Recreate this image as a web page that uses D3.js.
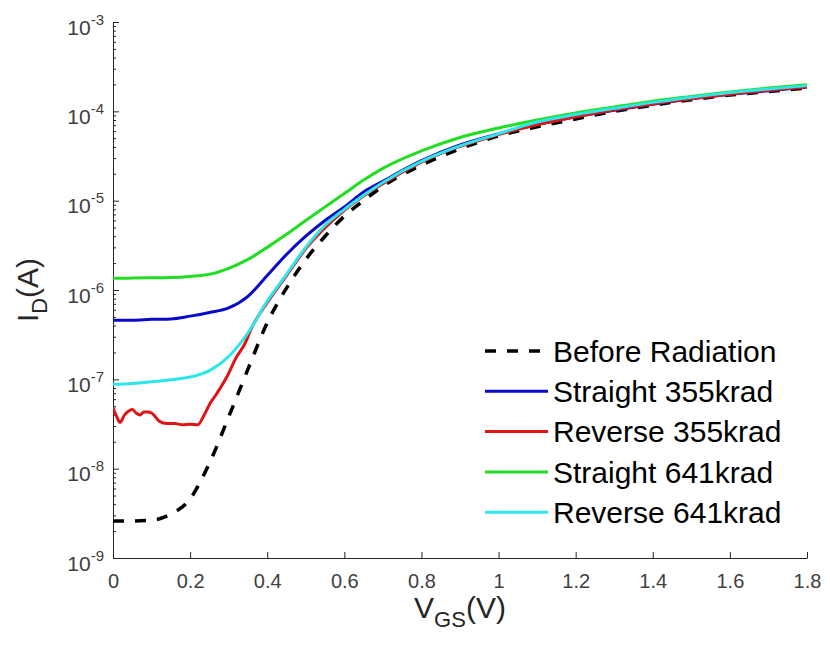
<!DOCTYPE html>
<html>
<head>
<meta charset="utf-8">
<script src="https://cdn.jsdelivr.net/npm/d3@7"></script>
<style>
  body { margin: 0; background: #fff; }
  svg { font-family: "Liberation Sans", Arial, sans-serif; }
</style>
</head>
<body>
<svg id="chart" width="830" height="647"></svg>
<script>
// gate voltage grid shared by the smooth curves
var vgs = [0, 0.05, 0.1, 0.15, 0.2, 0.25, 0.3, 0.35, 0.4, 0.45, 0.5, 0.55, 0.6, 0.65, 0.7,
  0.8, 0.9, 1.0, 1.1, 1.2, 1.3, 1.4, 1.5, 1.6, 1.7, 1.8];

var before = [2.6e-9, 2.6e-9, 2.65e-9, 3.1e-9, 4.6e-9, 1.15e-8, 3.8e-8, 1.3e-7, 4.3e-7, 1.05e-6,
  2.2e-6, 4.0e-6, 6.7e-6, 1.0e-5, 1.45e-5, 2.5e-5, 3.8e-5, 5.3e-5, 6.7e-5, 8.2e-5, 1.0e-4,
  1.17e-4, 1.35e-4, 1.52e-4, 1.67e-4, 1.82e-4];

var straight355 = [4.6e-7, 4.6e-7, 4.7e-7, 4.75e-7, 5.1e-7, 5.6e-7, 6.3e-7, 8.5e-7, 1.45e-6,
  2.5e-6, 4.0e-6, 6.0e-6, 8.5e-6, 1.25e-5, 1.65e-5, 2.8e-5, 4.2e-5, 5.6e-5, 7.1e-5, 8.7e-5,
  1.03e-4, 1.2e-4, 1.38e-4, 1.55e-4, 1.7e-4, 1.87e-4];

var straight641 = [1.35e-6, 1.36e-6, 1.37e-6, 1.38e-6, 1.42e-6, 1.5e-6, 1.75e-6, 2.2e-6, 3.0e-6,
  4.2e-6, 6.0e-6, 8.5e-6, 1.2e-5, 1.7e-5, 2.3e-5, 3.6e-5, 5.1e-5, 6.5e-5, 8.0e-5, 9.6e-5,
  1.12e-4, 1.3e-4, 1.47e-4, 1.65e-4, 1.82e-4, 1.98e-4];

var reverse641 = [8.8e-8, 9.0e-8, 9.4e-8, 9.9e-8, 1.06e-7, 1.25e-7, 1.8e-7, 3.3e-7, 7.5e-7,
  1.5e-6, 3.0e-6, 5.3e-6, 8.0e-6, 1.15e-5, 1.6e-5, 2.75e-5, 4.1e-5, 5.6e-5, 7.6e-5, 9.2e-5,
  1.08e-4, 1.26e-4, 1.44e-4, 1.62e-4, 1.78e-4, 1.94e-4];

// the reverse 355krad curve is noisy at low bias, so it has its own grid
var vgsReverse355 = [0, 0.01, 0.018, 0.03, 0.04, 0.05, 0.06, 0.07, 0.08, 0.09, 0.1, 0.11, 0.12,
  0.14, 0.16, 0.18, 0.2, 0.22, 0.234, 0.252, 0.27, 0.295, 0.32, 0.342, 0.36, 0.4, 0.45, 0.5,
  0.6, 0.7, 0.8, 1.0, 1.2, 1.4, 1.6, 1.8];
var reverse355 = [4.8e-8, 3.8e-8, 3.3e-8, 4.0e-8, 4.4e-8, 4.6e-8, 4.2e-8, 4.0e-8, 4.3e-8, 4.3e-8,
  4.2e-8, 3.8e-8, 3.4e-8, 3.2e-8, 3.2e-8, 3.1e-8, 3.15e-8, 3.1e-8, 3.8e-8, 5.4e-8, 7.0e-8,
  1.06e-7, 1.77e-7, 2.5e-7, 3.8e-7, 7.2e-7, 1.45e-6, 2.9e-6, 7.8e-6, 1.55e-5, 2.7e-5, 5.5e-5,
  8.7e-5, 1.21e-4, 1.55e-4, 1.88e-4];

var seriesNames = ["Before Radiation", "Straight 355krad", "Reverse 355krad",
  "Straight 641krad", "Reverse 641krad"];
var seriesColors = ["#000000", "#0a0ac8", "#e01414", "#22dd22", "#2ce6ec"];

var xTicks = [0, 0.2, 0.4, 0.6, 0.8, 1, 1.2, 1.4, 1.6, 1.8];
var yExponents = [-9, -8, -7, -6, -5, -4, -3];

(function() {
  var svg = d3.select("#chart");
  var plotLeft = 113, plotRight = 807, plotTop = 22, plotBottom = 558;

  var x = d3.scaleLinear().domain([0, 1.8]).range([plotLeft, plotRight]);
  var y = d3.scaleLog().domain([1e-9, 1e-3]).range([plotBottom, plotTop]);

  var axisColor = "#262626";

  // x axis
  var gx = svg.append("g")
    .attr("transform", "translate(0," + plotBottom + ")")
    .call(d3.axisBottom(x)
      .tickValues(xTicks)
      .tickSizeInner(-6)
      .tickSizeOuter(0)
      .tickPadding(16)
      .tickFormat(function(d) { return String(+d.toFixed(1)); }));
  gx.selectAll("text").attr("font-size", 20).attr("fill", "#404040")
    .attr("font-family", "Liberation Sans, Arial, sans-serif");

  // y axis, minor ticks first
  var minors = [];
  yExponents.slice(0, -1).forEach(function(e) {
    for (var k = 2; k <= 9; k++) minors.push(k * Math.pow(10, e));
  });
  svg.append("g")
    .attr("transform", "translate(" + plotLeft + ",0)")
    .call(d3.axisLeft(y).tickValues(minors).tickSizeInner(-3).tickSizeOuter(0).tickFormat(""))
    .call(function(g) { g.select(".domain").remove(); });

  var gy = svg.append("g")
    .attr("transform", "translate(" + plotLeft + ",0)")
    .call(d3.axisLeft(y)
      .tickValues(yExponents.map(function(e) { return Math.pow(10, e); }))
      .tickSizeInner(-6)
      .tickSizeOuter(0)
      .tickFormat(""));

  gy.selectAll(".tick").each(function(d) {
    var t = d3.select(this).append("text")
      .attr("x", -9)
      .attr("y", 12)
      .attr("text-anchor", "end")
      .attr("fill", "#404040")
      .attr("font-size", 21)
      .attr("font-family", "Liberation Sans, Arial, sans-serif");
    t.append("tspan").text("10");
    t.append("tspan").attr("font-size", 15).attr("dy", -10)
      .text(String(Math.round(Math.log10(d))));
  });

  svg.selectAll(".domain, .tick line").attr("stroke", axisColor);

  // axis labels
  var xl = svg.append("text")
    .attr("x", (plotLeft + plotRight) / 2)
    .attr("y", 618)
    .attr("text-anchor", "middle")
    .attr("font-size", 30)
    .attr("fill", "#262626");
  xl.append("tspan").text("V");
  xl.append("tspan").attr("font-size", 22).attr("dy", 9).text("GS");
  xl.append("tspan").attr("dy", -9).text("(V)");

  var yl = svg.append("text")
    .attr("transform", "translate(38," + ((plotTop + plotBottom) / 2) + ") rotate(-90)")
    .attr("text-anchor", "middle")
    .attr("font-size", 30)
    .attr("fill", "#262626");
  yl.append("tspan").text("I");
  yl.append("tspan").attr("font-size", 22).attr("dy", 9).text("D");
  yl.append("tspan").attr("dy", -9).text("(A)");

  // curves
  svg.append("clipPath").attr("id", "plot")
    .append("rect").attr("x", plotLeft).attr("y", plotTop - 2)
    .attr("width", plotRight - plotLeft + 2).attr("height", plotBottom - plotTop + 2);

  var line = d3.line()
    .x(function(d) { return x(d[0]); })
    .y(function(d) { return y(d[1]); })
    .curve(d3.curveMonotoneX);

  var curves = [
    d3.zip(vgs, before),
    d3.zip(vgs, straight355),
    d3.zip(vgsReverse355, reverse355),
    d3.zip(vgs, straight641),
    d3.zip(vgs, reverse641)
  ];

  svg.append("g").attr("clip-path", "url(#plot)")
    .selectAll("path")
    .data(curves)
    .join("path")
    .attr("d", line)
    .attr("fill", "none")
    .attr("stroke", function(d, i) { return seriesColors[i]; })
    .attr("stroke-width", function(d, i) { return i === 0 ? 3.5 : 3; })
    .attr("stroke-dasharray", function(d, i) { return i === 0 ? "11,11" : null; })
    .attr("stroke-linejoin", "round");

  // legend
  var legend = svg.append("g")
    .selectAll("g")
    .data(seriesNames)
    .join("g")
    .attr("transform", function(d, i) { return "translate(485," + (351 + i * 40.3) + ")"; });

  legend.append("line")
    .attr("x1", 0).attr("x2", 63)
    .attr("stroke", function(d, i) { return seriesColors[i]; })
    .attr("stroke-width", function(d, i) { return i === 0 ? 3.5 : 3; })
    .attr("stroke-dasharray", function(d, i) { return i === 0 ? "11,11" : null; });

  legend.append("text")
    .attr("x", 68)
    .attr("dy", "0.36em")
    .attr("font-size", 30)
    .attr("fill", "#000")
    .text(function(d) { return d; });
})();
</script>
</body>
</html>
